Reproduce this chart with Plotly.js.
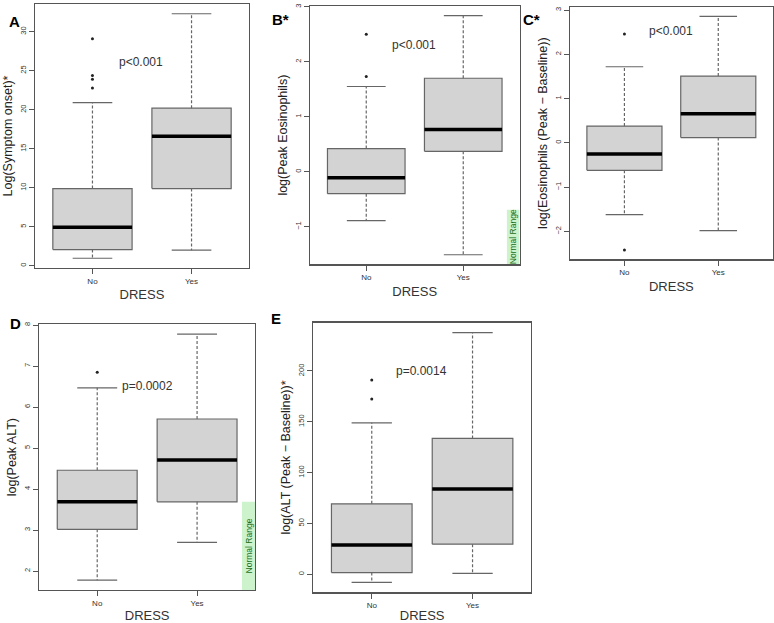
<!DOCTYPE html>
<html>
<head>
<meta charset="utf-8">
<script src="https://cdn.plot.ly/plotly-3.0.1.min.js"></script>
<style>
  html, body { margin: 0; padding: 0; background: #fff; }
  #chart { width: 774px; height: 623px; }
</style>
</head>
<body>
<div id="chart"></div>
<script>
// groups on the x axis
var groups = ['No', 'Yes'];

// A: Log(Symptom onset)*
var onsetLower = [0.97, 2.0];
var onsetQ1 = [2.08, 9.9];
var onsetMedian = [4.93, 16.6];
var onsetQ3 = [9.9, 20.2];
var onsetUpper = [20.9, 32.3];
var onsetOutliers = [[22.8, 23.9, 24.4, 29.1], []];

// B: log(Peak Eosinophils)
var eosLower = [-0.89, -1.51];
var eosQ1 = [-0.40, 0.37];
var eosMedian = [-0.11, 0.77];
var eosQ3 = [0.42, 1.70];
var eosUpper = [1.55, 2.84];
var eosOutliers = [[1.73, 2.50], []];
var eosNormalTop = -0.69;

// C: log(Eosinophils (Peak - Baseline))
var eosDiffLower = [-1.62, -1.98];
var eosDiffQ1 = [-0.62, 0.12];
var eosDiffMedian = [-0.25, 0.66];
var eosDiffQ3 = [0.38, 1.51];
var eosDiffUpper = [1.72, 2.86];
var eosDiffOutliers = [[2.46, -2.42], []];

// D: log(Peak ALT)
var altLower = [1.78, 2.70];
var altQ1 = [3.02, 3.69];
var altMedian = [3.69, 4.71];
var altQ3 = [4.46, 5.71];
var altUpper = [6.47, 7.78];
var altOutliers = [[6.85], []];
var altNormalTop = 3.69;

// E: log(ALT (Peak - Baseline))*
var altDiffLower = [-7.9, 1.0];
var altDiffQ1 = [1.7, 29.6];
var altDiffMedian = [28.9, 84.0];
var altDiffQ3 = [69.3, 133.7];
var altDiffUpper = [149, 237.7];
var altDiffOutliers = [[172.4, 191.1], []];

var font = 'Liberation Sans, Arial, sans-serif';
var half = 0.4, cap = 0.2;

function box_traces(ax, lower, q1, med, q3, upper, outl){
  var xa = 'x' + ax, ya = 'y' + ax;
  var traces = [];
  for (var i = 0; i < groups.length; i++) {
    var p = i + 1;
    traces.push({
      x: [p-half, p+half, p+half, p-half, p-half],
      y: [q1[i], q1[i], q3[i], q3[i], q1[i]],
      xaxis: xa, yaxis: ya, mode: 'lines', fill: 'toself',
      fillcolor: '#d3d3d3', line: {color: '#666', width: 1.2},
      hoverinfo: 'skip', showlegend: false
    });
    traces.push({
      x: [p-half, p+half], y: [med[i], med[i]],
      xaxis: xa, yaxis: ya, mode: 'lines',
      line: {color: '#000', width: 3.5}, showlegend: false
    });
    traces.push({
      x: [p, p, null, p, p], y: [q3[i], upper[i], null, q1[i], lower[i]],
      xaxis: xa, yaxis: ya, mode: 'lines',
      line: {color: '#666', width: 1.2, dash: '3px,2px'}, showlegend: false
    });
    traces.push({
      x: [p-cap, p+cap, null, p-cap, p+cap],
      y: [upper[i], upper[i], null, lower[i], lower[i]],
      xaxis: xa, yaxis: ya, mode: 'lines',
      line: {color: '#666', width: 1.2}, showlegend: false
    });
    if (outl[i].length) {
      traces.push({
        x: outl[i].map(function(){ return p; }), y: outl[i],
        xaxis: xa, yaxis: ya, mode: 'markers',
        marker: {color: '#222', size: 3}, showlegend: false
      });
    }
  }
  return traces;
}

var data = [].concat(
  box_traces('', onsetLower, onsetQ1, onsetMedian, onsetQ3, onsetUpper, onsetOutliers),
  box_traces('2', eosLower, eosQ1, eosMedian, eosQ3, eosUpper, eosOutliers),
  box_traces('3', eosDiffLower, eosDiffQ1, eosDiffMedian, eosDiffQ3, eosDiffUpper, eosDiffOutliers),
  box_traces('4', altLower, altQ1, altMedian, altQ3, altUpper, altOutliers),
  box_traces('5', altDiffLower, altDiffQ1, altDiffMedian, altDiffQ3, altDiffUpper, altDiffOutliers)
);

function xaxis(domain, anchor){
  return {
    domain: domain, anchor: anchor, range: [0.42, 2.58],
    tickvals: [1, 2], ticktext: groups,
    showline: true, mirror: true, linecolor: '#555', linewidth: 1.3,
    ticks: 'outside', ticklen: 5, tickcolor: '#555',
    showgrid: false, zeroline: false,
    tickfont: {family: font, size: 8, color: '#333'},
    title: {text: 'DRESS', font: {family: font, size: 13, color: '#333'}, standoff: 5}
  };
}
function yaxis(domain, anchor, range, dtick, title){
  return {
    domain: domain, anchor: anchor, range: range, dtick: dtick,
    showline: true, mirror: true, linecolor: '#555', linewidth: 1.3,
    ticks: 'outside', ticklen: 5, tickcolor: '#555',
    showgrid: false, zeroline: false, tickangle: -90,
    tickfont: {family: font, size: 7.5, color: '#333'},
    title: {text: title, font: {family: font, size: 12.5, color: '#222'}, standoff: 3}
  };
}

function px(x){ return x / 774; }
function py(y){ return 1 - y / 623; }

var layout = {
  width: 774, height: 623,
  margin: {l: 0, r: 0, t: 0, b: 0},
  paper_bgcolor: '#fff', plot_bgcolor: '#fff',
  showlegend: false,
  xaxis: xaxis([px(35), px(249)], 'y'),
  yaxis: yaxis([py(268), py(4)], 'x', [-0.28, 33.55], 5, 'Log(Symptom onset)*'),
  xaxis2: xaxis([px(310), px(519.5)], 'y2'),
  yaxis2: yaxis([py(264.3), py(6)], 'x2', [-1.684, 3.014], 1, 'log(Peak Eosinophils)'),
  xaxis3: xaxis([px(570), px(772.7)], 'y3'),
  yaxis3: yaxis([py(259.3), py(7)], 'x3', [-2.63, 3.07], 1, 'log(Eosinophils (Peak \u2212 Baseline))'),
  xaxis4: xaxis([px(39.3), px(255)], 'y4'),
  yaxis4: yaxis([py(590), py(324.3)], 'x4', [1.54, 8.02], 1, 'log(Peak ALT)'),
  xaxis5: xaxis([px(313.3), px(531)], 'y5'),
  yaxis5: yaxis([py(592.3), py(322.7)], 'x5', [-17.7, 247.5], 50, 'log(ALT (Peak \u2212 Baseline))*'),
  shapes: [
    {type: 'rect', xref: 'x2', yref: 'y2', x0: 2.45, x1: 2.58, y0: -1.684, y1: eosNormalTop,
     fillcolor: '#cdf3cd', line: {width: 0}, layer: 'below'},
    {type: 'rect', xref: 'x4', yref: 'y4', x0: 2.45, x1: 2.58, y0: 1.54, y1: altNormalTop,
     fillcolor: '#cdf3cd', line: {width: 0}, layer: 'below'}
  ],
  annotations: []
};

var pText = [
  ['x', 'y', 1.49, 26.07, 'p<0.001'],
  ['x2', 'y2', 1.495, 2.31, 'p<0.001'],
  ['x3', 'y3', 1.496, 2.53, 'p<0.001'],
  ['x4', 'y4', 1.50, 6.51, 'p=0.0002'],
  ['x5', 'y5', 1.495, 200, 'p=0.0014']
];
pText.forEach(function(a){
  layout.annotations.push({xref: a[0], yref: a[1], x: a[2], y: a[3], text: a[4],
    showarrow: false, font: {family: font, size: 12, color: '#333'}});
});

[['x2', 'y2', (-1.684 + eosNormalTop) / 2], ['x4', 'y4', (1.54 + altNormalTop) / 2]].forEach(function(a){
  layout.annotations.push({xref: a[0], yref: a[1], x: 2.515, y: a[2], text: 'Normal Range',
    textangle: -90, showarrow: false, font: {family: font, size: 8.5, color: '#1a6e1a'}});
});

var letters = [['A', 7, 11], ['B*', 280, 9], ['C*', 542, 9], ['D', 8, 323], ['E', 276, 318]];
letters.forEach(function(l){
  layout.annotations.push({xref: 'paper', yref: 'paper', x: px(l[1]), y: py(l[2]), text: '<b>' + l[0] + '</b>',
    showarrow: false, font: {family: font, size: 15, color: '#000'}});
});

Plotly.newPlot('chart', data, layout, {staticPlot: true});
</script>
</body>
</html>
